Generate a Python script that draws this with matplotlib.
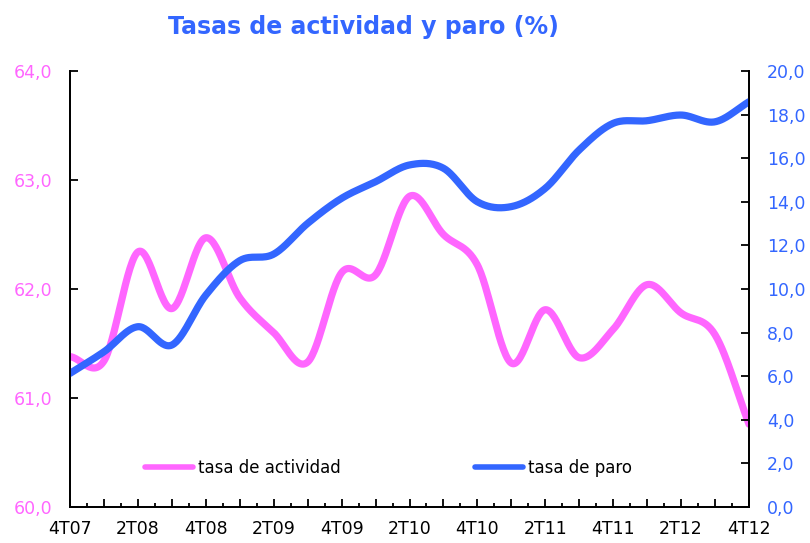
import numpy as np
import matplotlib
matplotlib.use("Agg")
import matplotlib.pyplot as plt
from matplotlib.ticker import MultipleLocator, FuncFormatter

quarters = ["4T07", "1T08", "2T08", "3T08", "4T08", "1T09", "2T09", "3T09", "4T09",
            "1T10", "2T10", "3T10", "4T10", "1T11", "2T11", "3T11", "4T11",
            "1T12", "2T12", "3T12", "4T12"]
tasa_actividad = [61.38, 61.34, 62.34, 61.82, 62.47, 61.92, 61.60, 61.33, 62.15,
                  62.13, 62.85, 62.50, 62.22, 61.32, 61.81, 61.37, 61.63,
                  62.04, 61.78, 61.58, 60.76]
tasa_paro = [6.13, 7.12, 8.27, 7.43, 9.72, 11.30, 11.60, 13.01, 14.16,
             14.92, 15.69, 15.54, 14.00, 13.78, 14.62, 16.38, 17.60,
             17.72, 17.98, 17.67, 18.59]

PINK = "#FF66FF"
BLUE = "#3366FF"


def smooth(x, y, n=30):
    """Catmull-Rom smoothing for display (like Excel's smoothed line)."""
    x = np.asarray(x, float)
    y = np.asarray(y, float)
    px = np.concatenate([[2 * x[0] - x[1]], x, [2 * x[-1] - x[-2]]])
    py = np.concatenate([[2 * y[0] - y[1]], y, [2 * y[-1] - y[-2]]])
    xs, ys = [], []
    t = np.linspace(0, 1, n, endpoint=False)
    for i in range(1, len(px) - 2):
        p0x, p1x, p2x, p3x = px[i - 1:i + 3]
        p0y, p1y, p2y, p3y = py[i - 1:i + 3]
        for (a0, a1, a2, a3, out) in ((p0x, p1x, p2x, p3x, xs), (p0y, p1y, p2y, p3y, ys)):
            out.extend(0.5 * ((2 * a1) + (-a0 + a2) * t + (2 * a0 - 5 * a1 + 4 * a2 - a3) * t ** 2
                              + (-a0 + 3 * a1 - 3 * a2 + a3) * t ** 3))
    xs.append(x[-1])
    ys.append(y[-1])
    return np.array(xs), np.array(ys)


fig = plt.figure(figsize=(8.1, 5.43), dpi=100)
ax = fig.add_axes([70 / 810, (543 - 507) / 543, 679 / 810, 436 / 543])
ax2 = ax.twinx()

xi = np.arange(len(quarters))
sx, sy = smooth(xi, tasa_actividad)
l1, = ax.plot(sx, sy, color=PINK, lw=5.2, solid_capstyle="round", label="tasa de actividad")
sx2, sy2 = smooth(xi, tasa_paro)
l2, = ax2.plot(sx2, sy2, color=BLUE, lw=5.2, solid_capstyle="round", label="tasa de paro")

ax.set_xlim(0, len(quarters) - 1)
ax.set_ylim(60, 64)
ax2.set_ylim(0, 20)

ax.set_yticks(np.arange(60, 64.01, 1.0))
ax2.set_yticks(np.arange(0, 20.01, 2.0))
fmt = FuncFormatter(lambda v, p: f"{v:.1f}".replace(".", ","))
ax.yaxis.set_major_formatter(fmt)
ax2.yaxis.set_major_formatter(fmt)

ax.set_xticks(xi)
ax.set_xticklabels([q if i % 2 == 0 else "" for i, q in enumerate(quarters)])
ax.xaxis.set_minor_locator(MultipleLocator(0.5))

for a in (ax, ax2):
    a.spines["top"].set_visible(False)
    for s in ("left", "right", "bottom"):
        a.spines[s].set_linewidth(1.3)
        a.spines[s].set_color("black")

ax.tick_params(axis="y", direction="in", length=6, width=1.3, labelsize=12.5,
               labelcolor=PINK, pad=13)
ax2.tick_params(axis="y", direction="in", length=6, width=1.3, labelsize=12.5,
                labelcolor=BLUE, pad=13)
ax.tick_params(axis="x", which="major", direction="in", length=6, width=1.3,
               labelsize=12.5, pad=9)
ax.tick_params(axis="x", which="minor", direction="in", length=3, width=1.3)

leg1 = ax2.legend([l1], ["tasa de actividad"], loc="center left",
                  bbox_to_anchor=((145 - 70) / 679, (507 - 468) / 436),
                  frameon=False, fontsize=12, handlelength=2.9, handletextpad=0.3,
                  borderpad=0, borderaxespad=0)
ax2.add_artist(leg1)
leg2 = ax2.legend([l2], ["tasa de paro"], loc="center left",
                  bbox_to_anchor=((475 - 70) / 679, (507 - 468) / 436),
                  frameon=False, fontsize=12, handlelength=2.9, handletextpad=0.3,
                  borderpad=0, borderaxespad=0)
for lg in (leg1, leg2):
    for line in lg.get_lines():
        line.set_linewidth(4)

fig.text(0.449, 0.951, "Tasas de actividad y paro (%)", ha="center", va="center",
         fontsize=17, fontweight="bold", color=BLUE)

fig.savefig("out.png", dpi=100)
